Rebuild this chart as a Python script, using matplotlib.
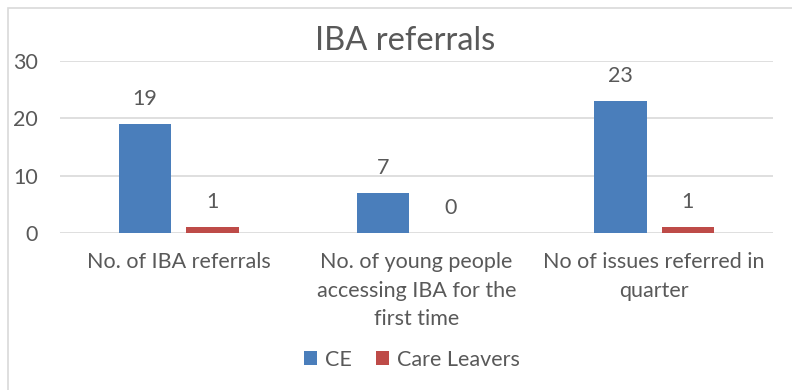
import matplotlib.pyplot as plt
import matplotlib.patches as patches
import numpy as np

# IBA referral counts by group
categories = ["No. of IBA referrals",
              "No. of young people\naccessing IBA for the\nfirst time",
              "No of issues referred in\nquarter"]
ce_values = [19, 7, 23]
care_leaver_values = [1, 0, 1]
series_names = ["CE", "Care Leavers"]

blue = "#4a7ebb"
red = "#be4b48"
text_color = "#595959"
grid_color = "#d9d9d9"

plt.rcParams["font.family"] = ["Lato", "DejaVu Sans"]

fig = plt.figure(figsize=(7.92, 3.9), dpi=100)
ax = fig.add_axes([0.0758, 0.4026, 0.9002, 0.441])

# light chart-area frame
fig.patches.append(patches.Rectangle((0.0101, -0.1), 1.2, 1.0795, transform=fig.transFigure,
                                     fill=False, edgecolor=grid_color, linewidth=1.2))

x = np.arange(len(categories))
width = 0.22
offset = 0.142
bars_ce = ax.bar(x - offset, ce_values, width, color=blue, label=series_names[0], zorder=3)
bars_cl = ax.bar(x + offset, care_leaver_values, width, color=red, label=series_names[1], zorder=3)

for bars, vals in [(bars_ce, ce_values), (bars_cl, care_leaver_values)]:
    for b, v in zip(bars, vals):
        ax.annotate(str(v), (b.get_x() + b.get_width() / 2, v), xytext=(0, 11),
                    textcoords="offset points", ha="center", va="bottom",
                    fontsize=15.5, color=text_color)

ax.set_xlim(-0.5, 2.5)
ax.set_ylim(0, 30)
ax.set_yticks([0, 10, 20, 30])
ax.yaxis.grid(True, color=grid_color, linewidth=1.2, zorder=0)
for s in ax.spines.values():
    s.set_visible(False)
ax.tick_params(axis="both", length=0, labelsize=15.5, labelcolor=text_color)
ax.tick_params(axis="y", pad=16)
ax.set_xticks(x)
ax.set_xticklabels(categories, linespacing=1.52)
ax.tick_params(axis="x", pad=14)

fig.text(0.511, 0.895, "IBA referrals", ha="center", va="center", fontsize=23.5, color=text_color)

fig.legend(handles=[bars_ce, bars_cl], loc="center", bbox_to_anchor=(0.52, 0.078), ncol=2,
           frameon=False, fontsize=15.5, labelcolor=text_color, handlelength=0.6,
           handleheight=0.6, handletextpad=0.4, columnspacing=1.1)

fig.savefig("out.png", dpi=100)
